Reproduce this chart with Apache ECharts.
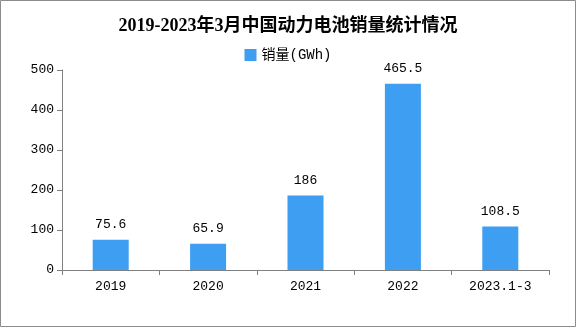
<!DOCTYPE html>
<html><head><meta charset="utf-8">
<script src="https://cdn.jsdelivr.net/npm/echarts@6/dist/echarts.min.js"></script>
<style>html,body{margin:0;padding:0;background:#fff}#c{width:576px;height:327px}</style>
</head><body><div id="c"></div>
<script>
const categories = ['2019', '2020', '2021', '2022', '2023.1-3'];
const sales = [75.6, 65.9, 186, 465.5, 108.5];
const seriesName = '销量(GWh)';
const titleText = '2019-2023年3月中国动力电池销量统计情况';

const font = "'Liberation Mono', 'Noto Sans CJK SC', monospace";
const chart = echarts.init(document.getElementById('c'), null, {renderer: 'canvas'});
chart.setOption({
  animation: false,
  backgroundColor: '#fff',
  title: {
    text: titleText, left: 'center', top: 12,
    textStyle: {fontFamily: "'Liberation Serif', 'Noto Sans CJK SC', serif", fontWeight: 'bold', fontSize: 18, color: '#000'}
  },
  legend: {
    top: 43, left: 'center', itemWidth: 12, itemHeight: 12, itemGap: 6,
    icon: 'rect',
    textStyle: {fontFamily: font, fontSize: 14, color: '#000'},
    data: [seriesName]
  },
  grid: {left: 62, right: 27, top: 70, bottom: 57, containLabel: false},
  xAxis: {
    type: 'category', data: categories,
    axisLine: {lineStyle: {color: '#808080', width: 1}},
    axisTick: {show: true, alignWithLabel: false, length: 5, lineStyle: {color: '#808080'}},
    axisLabel: {fontFamily: font, fontSize: 13, color: '#000', margin: 10}
  },
  yAxis: {
    type: 'value', min: 0, max: 500, interval: 100,
    axisLine: {show: true, lineStyle: {color: '#808080', width: 1}},
    axisTick: {show: true, length: 5, lineStyle: {color: '#808080'}},
    splitLine: {show: false},
    axisLabel: {fontFamily: font, fontSize: 13, color: '#000', margin: 8}
  },
  series: [{
    name: seriesName, type: 'bar', data: sales, barWidth: 36,
    itemStyle: {color: '#3d9ef2'},
    label: {show: true, position: 'top', distance: 9, fontFamily: font, fontSize: 13, color: '#000'}
  }],
  graphic: [{
    type: 'rect', shape: {x: 0.5, y: 0.5, width: 575, height: 326},
    style: {fill: 'none', stroke: '#8c8c8c', lineWidth: 1}, silent: true
  }]
});
</script></body></html>
